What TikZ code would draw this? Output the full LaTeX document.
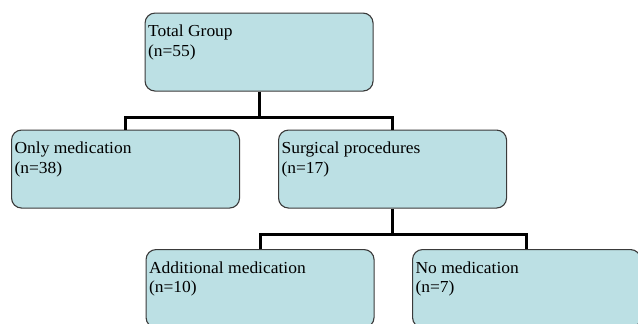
\documentclass[tikz,border=0pt]{standalone}
\usepackage{fontspec}
\setmainfont[FakeStretch=1.04]{Liberation Serif}
\usetikzlibrary{calc}
\definecolor{boxfill}{HTML}{BCE0E4}
\definecolor{boxline}{HTML}{3A3A3A}
\newcommand{\boxtext}[2]{\parbox[c][78pt][t]{222pt}{\fontsize{16.8}{19.5}\selectfont\rule{0pt}{23.5pt}#1\\#2}}
\tikzset{
  grpbox/.style={draw=boxline, line width=1.1pt, fill=boxfill, rounded corners=10pt,
    minimum width=228pt, minimum height=78pt, inner sep=0pt, anchor=north west},
  link/.style={draw=black, line width=3pt}
}
\begin{document}
\begin{tikzpicture}[x=1pt,y=1pt]
\useasboundingbox (0,0) rectangle (638,-324);
\node[grpbox] (total) at (144.5,-12.5) {\boxtext{Total Group}{(n=55)}};
\node[grpbox] (only) at (11,-129.5) {\boxtext{Only medication}{(n=38)}};
\node[grpbox] (surg) at (278,-129.5) {\boxtext{Surgical procedures}{(n=17)}};
\node[grpbox] (addm) at (145.5,-249) {\boxtext{Additional medication}{(n=10)}};
\node[grpbox] (nomed) at (412,-249) {\boxtext{No medication}{(n=7)}};
\coordinate (j1) at ($(total.south)+(0,-26)$);
\coordinate (j2) at ($(surg.south)+(0,-26)$);
\draw[link] (total.south) -- (j1);
\draw[link] (only.north) |- (j1) -| (surg.north);
\draw[link] (surg.south) -- (j2);
\draw[link] (addm.north) |- (j2) -| (nomed.north);
\end{tikzpicture}
\end{document}
